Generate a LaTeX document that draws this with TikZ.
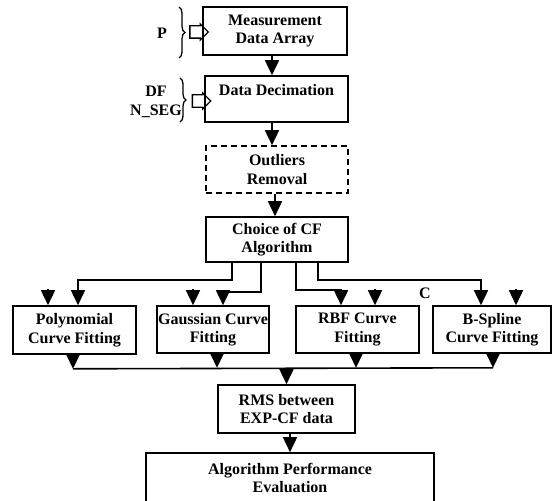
\documentclass[tikz,border=0pt]{standalone}
\usepackage{fontspec}
\setmainfont{Liberation Serif}
\usepackage{tikz}
\usetikzlibrary{arrows.meta, shapes.arrows, decorations.pathreplacing}

\begin{document}
\begin{tikzpicture}[
    x=1pt, y=-1pt,
    block/.style={draw, line width=1.6pt, inner sep=0pt, align=center, font=\fontsize{16}{18.5}\selectfont\bfseries},
    optblock/.style={block, dash pattern=on 6pt off 4pt},
    txt/.style={inner sep=0pt, align=center, font=\fontsize{16}{18.5}\selectfont\bfseries},
    param/.style={draw, line width=1.3pt, single arrow, single arrow head extend=2pt, single arrow head indent=0pt, minimum height=14pt, inner sep=5.5pt},
    curly/.style={decorate, decoration={brace, amplitude=6pt}, line width=1.3pt},
    flow/.style={-{Triangle[length=15pt, width=14pt]}, line width=1.6pt},
    bus/.style={line width=1.6pt}
]
    \clip (0,0) rectangle (553,500);

    % Main chain
    \node[block, minimum width=144pt, minimum height=48pt] (meas) at (275,31) {Measurement\\Data Array};
    \node[block, minimum width=143pt, minimum height=46pt] (dec) at (276.5,99) {Data Decimation\\\mbox{}};
    \node[optblock, minimum width=142pt, minimum height=47pt] (outl) at (277,169.5) {Outliers\\Removal};
    \node[block, minimum width=142pt, minimum height=45pt] (choice) at (277,239.5) {Choice of CF\\Algorithm};

    % Curve fitting methods
    \node[block, minimum width=123pt, minimum height=48pt] (poly) at (74.5,330) {Polynomial\\Curve Fitting};
    \node[block, minimum width=112pt, minimum height=47pt] (gauss) at (213,329.5) {Gaussian Curve\\Fitting};
    \node[block, minimum width=123pt, minimum height=47pt] (rbf) at (357.5,329.5) {RBF Curve\\Fitting};
    \node[block, minimum width=118pt, minimum height=47pt] (bspl) at (492,329.5) {B-Spline\\Curve Fitting};

    \node[block, minimum width=137pt, minimum height=48pt] (rms) at (286.5,409) {RMS between\\EXP-CF data};
    \node[block, minimum width=288pt, minimum height=50pt] (perf) at (290,478) {Algorithm Performance\\Evaluation};

    % Inputs
    \node[txt] (p) at (162,33) {P};
    \node[txt] (dfseg) at (156,102) {DF\\N\_SEG};
    \node[txt] (c) at (425,293) {C};
    \draw[curly] (179,7) -- (179,58);
    \draw[curly] (180,78) -- (180,122);
    \node[param] (pin) at (196,32) {};
    \node[param] (dfin) at (198.5,101) {};

    % Flows
    \draw[flow] ([xshift=-3pt]meas.south) -- ([xshift=-3pt]meas.south |- dec.north);
    \draw[flow] ([xshift=-4.5pt]dec.south) -- ([xshift=-4.5pt]dec.south |- outl.north);
    \draw[flow] ([xshift=-2pt]outl.south) -- ([xshift=-2pt]outl.south |- choice.north);

    \draw[flow] ([xshift=-45pt]choice.south) -- ++(0,17) -| ([xshift=3.5pt]poly.north);
    \draw[flow] ([xshift=-16pt]choice.south) -- ++(0,29) -| ([xshift=10pt]gauss.north);
    \draw[flow] ([xshift=19pt]choice.south) -- ++(0,27) -| ([xshift=-16.5pt]rbf.north);
    \draw[flow] ([xshift=41pt]choice.south) -- ++(0,17) -| ([xshift=-11pt]bspl.north);

    \foreach \n/\dx in {poly/-26.5, gauss/-20, rbf/17.5, bspl/24}
        \draw[flow] ([xshift=\dx pt, yshift=16pt]\n.north) -- ([xshift=\dx pt]\n.north);

    \foreach \n/\dx in {poly/-1.5, gauss/4, rbf/-1.5, bspl/1}
        \draw[flow] ([xshift=\dx pt]\n.south) -- ([xshift=\dx pt, yshift=-14pt]\n.south);
    \coordinate (busL) at ([xshift=-1.5pt, yshift=-14pt]poly.south);
    \coordinate (busR) at ([xshift=1pt, yshift=-14pt]bspl.south);
    \draw[bus] (busL) -- (busR);
    \draw[flow] (busL -| rms.north) -- (rms.north);

    \draw[flow] (rms.south -| perf.north) -- (perf.north);
\end{tikzpicture}
\end{document}
